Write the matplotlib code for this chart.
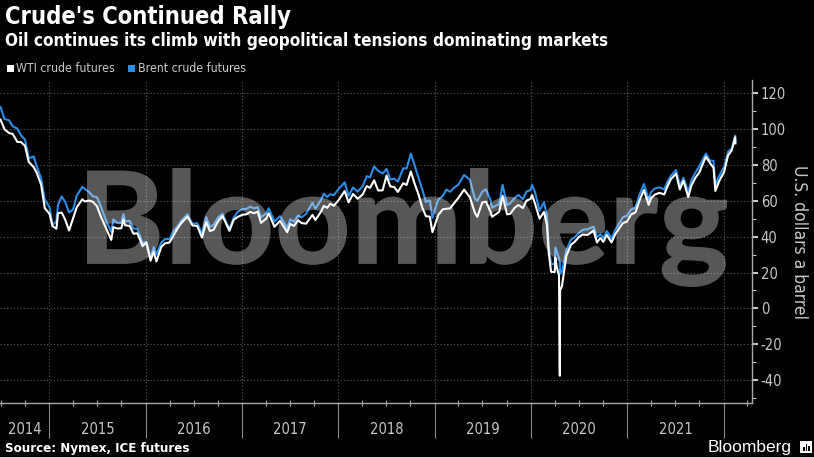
import datetime as dt
import pandas as pd
import matplotlib.pyplot as plt
import matplotlib.dates as mdates
from matplotlib.ticker import MultipleLocator
from matplotlib.textpath import TextPath
from matplotlib.patches import PathPatch, Rectangle
from matplotlib.font_manager import FontProperties
from matplotlib.transforms import Affine2D, blended_transform_factory

# front-month settles (roughly twice a month)
dates = [
    "2014-06-30", "2014-07-15", "2014-08-01", "2014-08-15", "2014-09-02", "2014-09-15",
    "2014-10-01", "2014-10-15", "2014-11-03", "2014-11-14", "2014-12-01", "2014-12-15",
    "2015-01-02", "2015-01-13", "2015-01-28", "2015-02-03", "2015-02-17", "2015-03-02",
    "2015-03-17", "2015-04-01", "2015-04-15", "2015-05-06", "2015-05-15", "2015-06-01",
    "2015-06-15", "2015-07-01", "2015-07-15", "2015-08-03", "2015-08-24", "2015-09-01",
    "2015-09-15", "2015-10-01", "2015-10-09", "2015-10-15", "2015-11-02", "2015-11-16",
    "2015-12-01", "2015-12-21",
    "2016-01-04", "2016-01-20", "2016-02-01", "2016-02-11", "2016-03-01", "2016-03-15",
    "2016-04-01", "2016-04-15", "2016-05-02", "2016-05-16", "2016-06-08", "2016-06-27",
    "2016-07-15", "2016-08-02", "2016-08-18", "2016-09-01", "2016-09-15", "2016-10-03",
    "2016-10-19", "2016-11-14", "2016-11-30", "2016-12-15",
    "2017-01-03", "2017-01-17", "2017-02-01", "2017-02-15", "2017-03-01", "2017-03-14",
    "2017-04-03", "2017-04-12", "2017-05-04", "2017-05-25", "2017-06-21", "2017-07-03",
    "2017-07-17", "2017-08-01", "2017-08-15", "2017-09-01", "2017-09-25", "2017-10-06",
    "2017-10-27", "2017-11-07", "2017-11-20", "2017-12-01", "2017-12-15",
    "2018-01-02", "2018-01-25", "2018-02-09", "2018-02-26", "2018-03-15", "2018-04-03",
    "2018-04-19", "2018-05-01", "2018-05-17", "2018-06-01", "2018-06-18", "2018-07-03",
    "2018-07-17", "2018-08-01", "2018-08-15", "2018-09-04", "2018-09-17", "2018-10-03",
    "2018-10-17", "2018-11-01", "2018-11-15", "2018-11-29", "2018-12-14", "2018-12-24",
    "2019-01-02", "2019-01-15", "2019-02-01", "2019-02-15", "2019-03-01", "2019-03-15",
    "2019-04-01", "2019-04-23", "2019-05-15", "2019-06-03", "2019-06-12", "2019-07-01",
    "2019-07-15", "2019-08-01", "2019-08-07", "2019-09-03", "2019-09-16", "2019-10-03",
    "2019-10-15", "2019-11-01", "2019-11-15", "2019-12-02", "2019-12-16", "2019-12-31",
    "2020-01-06", "2020-01-17", "2020-02-03", "2020-02-20", "2020-03-02", "2020-03-09",
    "2020-03-18", "2020-04-01", "2020-04-03", "2020-04-09", "2020-04-17", "2020-04-20",
    "2020-04-21", "2020-04-28", "2020-05-15", "2020-06-01", "2020-06-15", "2020-07-01",
    "2020-07-15", "2020-08-03", "2020-08-26", "2020-09-08", "2020-09-21", "2020-10-02",
    "2020-10-15", "2020-11-02", "2020-11-16", "2020-12-01", "2020-12-15", "2020-12-31",
    "2021-01-15", "2021-02-01", "2021-02-16", "2021-03-05", "2021-03-23", "2021-04-01",
    "2021-04-15", "2021-05-03", "2021-05-21", "2021-06-01", "2021-06-15", "2021-07-05",
    "2021-07-19", "2021-08-02", "2021-08-20", "2021-09-01", "2021-09-15", "2021-10-01",
    "2021-10-26", "2021-11-10", "2021-11-24", "2021-12-01", "2021-12-15",
    "2022-01-03", "2022-01-18", "2022-02-01", "2022-02-14", "2022-02-15",
]

wti = [
    105.4, 100.0, 97.9, 97.4, 92.9, 92.9,
    90.7, 81.8, 78.8, 75.8, 69.0, 55.9,
    52.7, 45.9, 44.5, 53.1, 53.5, 49.6,
    43.5, 50.1, 56.4, 60.9, 59.7, 60.2,
    59.5, 57.0, 51.4, 45.2, 38.2, 45.4,
    44.6, 44.7, 49.6, 46.4, 46.1, 41.7,
    41.9, 34.7,
    36.8, 26.6, 31.6, 26.2, 34.4, 36.3,
    36.8, 40.4, 44.8, 47.7, 51.2, 46.3,
    46.0, 39.5, 48.2, 43.2, 43.9, 48.8,
    51.6, 43.3, 49.4, 51.0,
    52.3, 52.5, 53.9, 53.1, 54.0, 47.7,
    50.2, 53.1, 45.5, 48.9, 42.5, 47.1,
    46.0, 49.2, 47.6, 47.3, 52.2, 49.3,
    53.9, 57.2, 56.1, 58.4, 57.3,
    60.4, 65.5, 59.2, 63.9, 61.2, 63.5,
    68.3, 67.3, 71.5, 65.8, 65.9, 74.1,
    68.1, 67.7, 65.0, 69.9, 68.9, 76.4,
    69.8, 63.7, 56.5, 51.5, 51.2, 42.5,
    46.5, 52.1, 55.3, 55.6, 55.8, 58.5,
    61.6, 66.3, 62.0, 53.3, 51.1, 59.1,
    59.6, 54.0, 51.1, 53.9, 62.9, 52.5,
    52.8, 56.2, 57.7, 56.0, 60.2, 61.1,
    63.3, 58.5, 50.1, 53.8, 46.8, 31.1,
    20.4, 20.3, 28.3, 22.8, 18.3, -37.6,
    10.0, 12.3, 29.4, 35.4, 37.1, 39.8,
    41.2, 41.0, 43.4, 36.8, 39.3, 37.1,
    41.0, 36.8, 41.3, 44.6, 47.6, 48.5,
    52.4, 53.6, 60.1, 66.1, 57.8, 61.5,
    63.5, 64.5, 63.6, 67.7, 72.1, 75.2,
    66.4, 71.3, 62.1, 68.6, 72.6, 75.9,
    84.7, 81.3, 78.4, 65.6, 70.9,
    76.1, 85.4, 88.2, 95.5, 92.1,
]

brent = [
    112.4, 105.7, 105.0, 101.7, 100.3, 96.7,
    94.2, 83.8, 84.8, 79.4, 72.5, 60.6,
    56.4, 46.6, 48.5, 57.9, 62.5, 59.5,
    53.5, 55.1, 63.0, 67.8, 66.8, 64.9,
    62.6, 62.0, 57.1, 49.5, 42.7, 49.6,
    47.8, 47.7, 52.6, 48.7, 48.8, 44.6,
    44.4, 36.4,
    37.2, 27.9, 34.2, 30.1, 36.8, 38.7,
    38.7, 43.1, 45.8, 49.0, 52.5, 47.2,
    47.6, 41.8, 50.9, 45.5, 46.6, 50.9,
    52.7, 44.4, 50.5, 53.9,
    55.5, 55.5, 56.8, 55.8, 56.5, 50.9,
    53.1, 55.9, 48.4, 51.5, 44.8, 49.7,
    48.4, 51.8, 50.8, 52.8, 59.0, 55.6,
    60.4, 64.0, 62.2, 63.7, 63.2,
    66.6, 70.4, 62.8, 67.5, 65.1, 68.1,
    73.8, 73.1, 79.3, 76.8, 75.3, 77.8,
    72.0, 72.4, 70.8, 78.2, 78.1, 86.3,
    80.1, 72.9, 66.6, 59.5, 60.3, 50.5,
    54.9, 60.6, 62.8, 66.3, 65.1, 67.2,
    69.0, 74.5, 71.8, 61.3, 60.0, 65.1,
    66.5, 60.5, 56.2, 58.3, 69.0, 57.7,
    58.7, 61.7, 63.3, 60.9, 65.3, 66.0,
    68.9, 64.9, 54.5, 59.3, 51.9, 34.4,
    24.9, 24.7, 34.1, 31.5, 28.1, 25.6,
    19.3, 20.5, 32.5, 38.3, 39.7, 42.0,
    43.8, 44.2, 45.6, 39.8, 41.4, 39.3,
    43.2, 39.0, 43.8, 47.4, 50.8, 51.8,
    55.1, 56.4, 63.4, 69.4, 60.8, 64.9,
    66.9, 67.6, 66.4, 70.3, 74.0, 77.2,
    68.6, 72.9, 65.2, 71.6, 75.5, 79.3,
    86.4, 82.6, 82.3, 68.9, 73.9,
    79.0, 87.5, 89.2, 96.5, 93.3,
]

years = list(range(2014, 2022))
yticks = [-40, -20, 0, 20, 40, 60, 80, 100, 120]

BLUE = "#2a8ee8"
GREY = "#c8c8c8"
W, H = 814, 457

plt.rcParams["font.family"] = "DejaVu Sans"
plt.rcParams["font.stretch"] = "condensed"
plt.rcParams["axes.unicode_minus"] = False

x = pd.to_datetime(dates)

fig = plt.figure(figsize=(W / 100, H / 100), dpi=100, facecolor="black")
ax = fig.add_axes([0, 1 - 403.3 / H, 752.3 / W, (403.3 - 80) / H])
ax.patch.set_alpha(0)

ax.plot(x, brent, color=BLUE, lw=1.5, zorder=2)
ax.plot(x, wti, color="white", lw=1.5, zorder=3)

ax.set_xlim(dt.datetime(2014, 6, 28), dt.datetime(2022, 4, 20))
ax.set_ylim(-53, 127.5)

ax.set_axisbelow(True)
ax.grid(True, which="major", ls=(0, (1, 2)), color="#5a5a5a", lw=0.8)

ax.xaxis.set_major_locator(mdates.YearLocator())
ax.xaxis.set_minor_locator(mdates.MonthLocator(bymonth=[4, 7, 10]))
ax.xaxis.set_major_formatter(plt.NullFormatter())
ax.tick_params(axis="x", which="major", direction="out", length=25, width=0.8, color="#8a8a8a")
ax.tick_params(axis="x", which="minor", direction="inout", length=4, width=0.8, color="#aaaaaa")

ax.yaxis.tick_right()
ax.yaxis.set_label_position("right")
ax.set_yticks(yticks)
ax.yaxis.set_minor_locator(MultipleLocator(10))
ax.tick_params(axis="y", which="major", length=4, width=1.5, color=GREY, labelcolor=GREY,
               labelsize=10.5, pad=2)
ax.tick_params(axis="y", which="minor", length=3, width=0.8, color=GREY)
ax.set_ylabel("U.S. dollars a barrel", rotation=270, color=GREY, fontsize=12.5, labelpad=16)

for s in ["left", "top"]:
    ax.spines[s].set_visible(False)
for s in ["right", "bottom"]:
    ax.spines[s].set_color("#a8a8a8")
    ax.spines[s].set_linewidth(1.0)

# big translucent watermark laid over the plot (heavy face, stretched to the box)
wm = TextPath((0, 0), "Bloomberg", size=100,
              prop=FontProperties(family=["Lato", "Roboto", "DejaVu Sans"], weight=900,
                                  stretch="normal"))
bb = wm.get_extents()
tr = Affine2D().translate(-bb.x0, -bb.y0).scale(640 / bb.width, 119 / bb.height).translate(87, H - 287)
fig.add_artist(PathPatch(wm, transform=tr, fc="white", alpha=0.345, ec="none", zorder=5))

# year labels centred in the visible part of each year
trans = blended_transform_factory(ax.transData, ax.transAxes)
lo, hi = ax.get_xlim()
for yr in years:
    a = max(mdates.date2num(dt.datetime(yr, 1, 1)), lo)
    b = min(mdates.date2num(dt.datetime(yr + 1, 1, 1)), hi)
    ax.text((a + b) / 2, -(430 - 403.3) / (403.3 - 80), str(yr), transform=trans,
            ha="center", va="center", color=GREY, fontsize=10.5)

# header
fig.text(5 / W, 1 - 24 / H, "Crude's Continued Rally", color="white", fontsize=17,
         fontweight="bold", va="baseline")
fig.text(5 / W, 1 - 46 / H, "Oil continues its climb with geopolitical tensions dominating markets",
         color="white", fontsize=12.3, fontweight="bold", va="baseline")

# legend
for sx, col, lab in [(6.7, "white", "WTI crude futures"), (128, BLUE, "Brent crude futures")]:
    fig.add_artist(Rectangle((sx / W, 1 - 72 / H), 7 / W, 7.5 / H, transform=fig.transFigure,
                             fc=col, ec="none"))
    fig.text((sx + 9.5) / W, 1 - 72.3 / H, lab, color=GREY, fontsize=8.8, va="baseline")

# footer
fig.text(5 / W, 1 - 452 / H, "Source: Nymex, ICE futures", color="white", fontsize=9.5,
         fontweight="bold", va="baseline")
fig.text(792 / W, 1 - 452 / H, "Bloomberg", color="white", fontsize=12.5, ha="right",
         va="baseline", family="Liberation Sans", stretch="normal")
fig.add_artist(Rectangle((800 / W, 1 - 453 / H), 12 / W, 12 / H, transform=fig.transFigure,
                         fc="white", ec="none"))
for bx, bh in [(803, 4), (805.5, 7), (808, 5)]:
    fig.add_artist(Rectangle((bx / W, 1 - 451 / H), 1.5 / W, bh / H, transform=fig.transFigure,
                             fc="black", ec="none"))

fig.savefig("out.png", dpi=100, facecolor="black")
